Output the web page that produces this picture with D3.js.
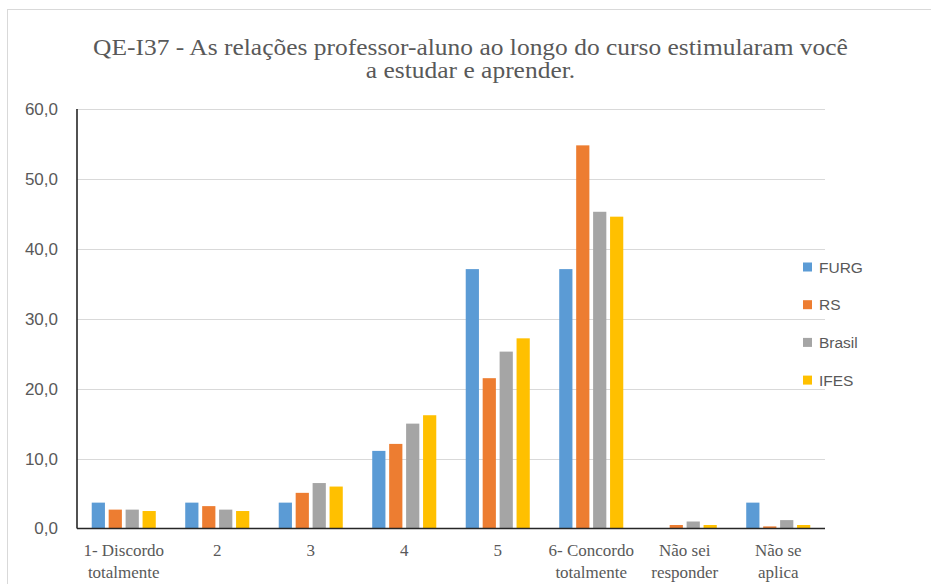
<!DOCTYPE html>
<html>
<head>
<meta charset="utf-8">
<script src="https://cdn.jsdelivr.net/npm/d3@7"></script>
<style>
  html, body { margin: 0; padding: 0; background: #fff; }
  svg { display: block; }
</style>
</head>
<body>
<svg id="chart" width="931" height="584"></svg>
<script>
const categories = [
  ["1- Discordo", "totalmente"],
  ["2"],
  ["3"],
  ["4"],
  ["5"],
  ["6- Concordo", "totalmente"],
  ["Não sei", "responder"],
  ["Não se", "aplica"]
];
const seriesNames = ["FURG", "RS", "Brasil", "IFES"];
const seriesColors = ["#5B9BD5", "#ED7D31", "#A5A5A5", "#FFC000"];
const furg   = [3.7, 3.7, 3.7, 11.1, 37.1, 37.1, 0.0, 3.7];
const rs     = [2.7, 3.2, 5.1, 12.1, 21.5, 54.8, 0.5, 0.3];
const brasil = [2.7, 2.7, 6.5, 15.0, 25.3, 45.3, 1.0, 1.2];
const ifes   = [2.5, 2.5, 6.0, 16.2, 27.2, 44.6, 0.5, 0.5];
const yTicks = [0, 10, 20, 30, 40, 50, 60];
const titleLines = [
  "QE-I37 - As relações professor-aluno ao longo do curso estimularam você",
  "a estudar e aprender."
];

const seriesValues = [furg, rs, brasil, ifes];
const svg = d3.select("#chart");

// outer chart border (top + left visible)
svg.append("rect")
  .attr("x", 7.5).attr("y", 9.5)
  .attr("width", 1000).attr("height", 1000)
  .attr("fill", "none").attr("stroke", "#D9D9D9").attr("stroke-width", 1);

const plot = { left: 77, right: 825, top: 109, bottom: 528.5 };

const y = d3.scaleLinear().domain([0, 60]).range([plot.bottom, plot.top]);
const x0 = d3.scaleBand().domain(d3.range(categories.length))
  .range([plot.left, plot.right]).padding(0);
const groupW = x0.step() * 0.685;
const x1 = d3.scaleBand().domain(d3.range(seriesNames.length))
  .range([0, groupW]).paddingInner(0.22).paddingOuter(0);

// gridlines
svg.append("g").selectAll("line").data(yTicks.filter(d => d > 0)).join("line")
  .attr("x1", plot.left).attr("x2", plot.right)
  .attr("y1", d => Math.round(y(d)) + 0.5).attr("y2", d => Math.round(y(d)) + 0.5)
  .attr("stroke", "#D9D9D9").attr("stroke-width", 1.2);

// y tick labels
const fmt = d => d.toFixed(1).replace(".", ",");
svg.append("g").selectAll("text").data(yTicks).join("text")
  .attr("x", 58).attr("y", d => y(d))
  .attr("dy", "0.35em")
  .attr("text-anchor", "end")
  .attr("font-family", "'Liberation Sans', Arial, sans-serif")
  .attr("font-size", 17)
  .attr("fill", "#595959")
  .text(fmt);

// bars
const groups = svg.append("g").selectAll("g").data(categories).join("g")
  .attr("transform", (d, i) => `translate(${x0(i) + (x0.step() - groupW) / 2},0)`);
groups.selectAll("rect")
  .data((d, i) => seriesValues.map((vals, s) => ({ s, v: vals[i] })))
  .join("rect")
  .attr("x", d => x1(d.s))
  .attr("width", x1.bandwidth())
  .attr("y", d => y(d.v))
  .attr("height", d => plot.bottom - y(d.v))
  .attr("fill", d => seriesColors[d.s]);

// axes lines
svg.append("line")
  .attr("x1", plot.left).attr("x2", plot.left)
  .attr("y1", plot.top).attr("y2", plot.bottom)
  .attr("stroke", "#262626").attr("stroke-width", 1.6);
svg.append("line")
  .attr("x1", plot.left).attr("x2", plot.right)
  .attr("y1", plot.bottom).attr("y2", plot.bottom)
  .attr("stroke", "#262626").attr("stroke-width", 1.6);

// x labels
const xl = svg.append("g").selectAll("text").data(categories).join("text")
  .attr("text-anchor", "middle")
  .attr("font-family", "'Liberation Serif', 'Times New Roman', serif")
  .attr("font-size", 17)
  .attr("fill", "#595959")
  .attr("transform", (d, i) => `translate(${x0(i) + x0.step() / 2},0)`);
xl.selectAll("tspan").data(d => d).join("tspan")
  .attr("x", 0)
  .attr("y", (d, j) => 556 + j * 21.5)
  .text(d => d);

// title
const tg = svg.append("g");
const tt = tg.selectAll("text").data(titleLines).join("text")
  .attr("x", 0)
  .attr("y", (d, i) => 55 + i * 23.5)
  .attr("text-anchor", "middle")
  .attr("font-family", "'Liberation Serif', 'Times New Roman', serif")
  .attr("font-size", 23.5)
  .attr("fill", "#595959")
  .text(d => d);
const w0 = tt.nodes()[0].getComputedTextLength();
const sx = 755 / w0;
tg.attr("transform", `translate(470.5,0) scale(${sx},1)`);

// legend
const lg = svg.append("g").selectAll("g").data(seriesNames).join("g")
  .attr("transform", (d, i) => `translate(803,${267 + i * 37.7})`);
lg.append("rect")
  .attr("x", 0).attr("y", -4.5).attr("width", 9).attr("height", 9)
  .attr("fill", (d, i) => seriesColors[i]);
lg.append("text")
  .attr("x", 16).attr("y", 0).attr("dy", "0.36em")
  .attr("font-family", "'Liberation Sans', Arial, sans-serif")
  .attr("font-size", 15.5)
  .attr("fill", "#595959")
  .text(d => d);
</script>
</body>
</html>
